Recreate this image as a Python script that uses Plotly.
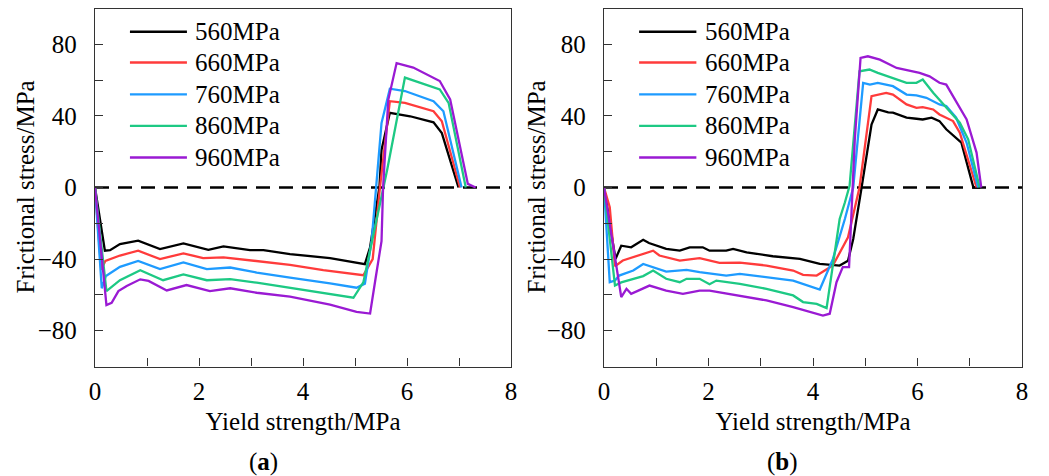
import plotly.graph_objects as go

# ---- series labels and colours ----
labels = ["560MPa", "660MPa", "760MPa", "860MPa", "960MPa"]
colors = ["#000000", "#FF3B3B", "#1E9BFF", "#1DC984", "#9A1AD3"]

# ---- panel (a) ----
a_x_560 = [0, 0.19, 0.29, 0.48, 0.83, 1.25, 1.70, 2.18, 2.47, 2.98, 3.24, 3.75, 4.52, 4.97, 5.19, 5.29, 5.47, 5.51, 5.67, 6.06, 6.51, 6.67, 6.99]
a_y_560 = [0, -35.3, -35, -31.6, -29.7, -34.4, -31.2, -34.8, -32.9, -35, -35, -37.2, -39.4, -41.9, -42.8, -33.4, 0.3, 21, 41.7, 39.8, 36.4, 30.4, 0]

a_x_660 = [0, 0.12, 0.20, 0.48, 0.83, 1.25, 1.70, 2.08, 2.47, 3.11, 3.75, 4.39, 5.16, 5.34, 5.48, 5.67, 5.96, 6.51, 6.67, 7.02]
a_y_660 = [0, -46, -41, -38, -35.3, -40, -36.8, -39.4, -39, -41, -43.2, -46.2, -49, -40, 0, 48.2, 47.3, 42.6, 37, 0]

a_x_760 = [0, 0.13, 0.21, 0.48, 0.83, 1.25, 1.70, 2.15, 2.60, 3.11, 3.75, 4.52, 5.03, 5.19, 5.32, 5.40, 5.51, 5.67, 5.96, 6.51, 6.70, 7.05]
a_y_760 = [0, -56.3, -49.4, -44.3, -41, -45.6, -41.9, -45.6, -44.7, -47.5, -50.4, -53.5, -56, -53.7, -29.7, 0, 36, 55.2, 53.9, 48.2, 42.6, 0]

a_x_860 = [0, 0.22, 0.48, 0.87, 1.31, 1.70, 2.15, 2.60, 3.11, 3.75, 4.39, 4.97, 5.16, 5.62, 5.96, 6.63, 6.80, 7.13]
a_y_860 = [0, -57.9, -51.8, -46.2, -51.8, -48.5, -51.8, -51.2, -53.2, -56, -58.8, -61.6, -53, 10, 61.4, 54.8, 47.3, 0]

a_x_960 = [0, 0.22, 0.32, 0.45, 0.61, 0.87, 1.03, 1.38, 1.76, 2.21, 2.60, 3.11, 3.75, 4.52, 5.03, 5.29, 5.40, 5.51, 5.54, 5.64, 5.80, 6.12, 6.63, 6.83, 7.17, 7.32]
a_y_960 = [0, -65.7, -64.4, -57.9, -55, -51.3, -52.2, -57.5, -54.5, -57.9, -56.3, -58.8, -61, -65.4, -69.5, -70.4, -50, -30, 0, 49, 69.5, 67, 59.5, 49.2, 2, 0]

# ---- panel (b) ----
b_x_560 = [0, 0.22, 0.33, 0.52, 0.75, 0.86, 1.19, 1.45, 1.64, 1.89, 2.02, 2.34, 2.47, 2.73, 3.23, 3.75, 4.13, 4.51, 4.67, 4.77, 4.93, 5.12, 5.24, 5.44, 5.53, 5.79, 5.98, 6.10, 6.27, 6.42, 6.55, 6.84, 7.07, 7.20]
b_y_560 = [0, -39.9, -32.5, -33.4, -29.2, -31, -34.3, -35.3, -33.4, -33.4, -35.3, -35.3, -34.3, -36.2, -38.4, -39.9, -42.7, -43.6, -40.9, -28.8, 0, 35.2, 43.6, 42, 41.8, 39, 38.4, 38, 39, 37.1, 32.5, 25, 0, 0]

b_x_660 = [0, 0.11, 0.21, 0.36, 0.94, 1.06, 1.45, 1.83, 2.21, 2.60, 3.11, 3.62, 3.81, 4.07, 4.38, 4.67, 4.89, 5.12, 5.40, 5.53, 5.79, 5.98, 6.10, 6.30, 6.42, 6.68, 6.81, 7.13]
b_y_660 = [0, -11, -44, -40.8, -35.3, -38, -40.8, -39.5, -42.1, -42, -43.6, -46.4, -48.8, -49.2, -43.6, -27.8, 0, 51, 52.9, 51.9, 46.4, 44.5, 44.9, 43.6, 40.8, 37.1, 30.6, 0]

b_x_760 = [0, 0.11, 0.21, 0.29, 0.56, 0.75, 1.19, 1.58, 1.83, 2.34, 2.60, 3.11, 3.62, 4.13, 4.38, 4.61, 4.77, 4.96, 5.09, 5.24, 5.53, 5.79, 5.98, 6.17, 6.42, 6.55, 6.74, 6.94, 7.16]
b_y_760 = [0, -52.9, -52, -49.2, -46.4, -42.7, -47, -46, -47.3, -49.2, -48.3, -50.1, -52, -57, -40, -17.6, 0, 58.4, 57.5, 58.4, 56.6, 51.9, 51.5, 50.1, 46.4, 45.5, 39, 25, 0]

b_x_860 = [0, 0.21, 0.33, 0.56, 0.75, 0.94, 1.19, 1.45, 1.58, 1.83, 2.02, 2.15, 2.60, 3.11, 3.62, 3.81, 4.07, 4.26, 4.51, 4.61, 4.70, 4.89, 5.08, 5.24, 5.53, 5.79, 5.98, 6.10, 6.30, 6.55, 6.81, 6.97, 7.19]
b_y_860 = [0, -54.8, -53, -51, -49.5, -46.4, -51, -52.9, -51, -51, -54, -52, -53.8, -56.6, -60.3, -64, -65, -67.4, -17.6, -8.4, 0.9, 64.9, 65.9, 64, 61.2, 58.5, 58.5, 60.3, 52.9, 44.5, 36.2, 26.9, 0]

b_x_960 = [0, 0.33, 0.43, 0.52, 0.87, 1.19, 1.51, 1.83, 2.02, 2.60, 3.11, 3.62, 3.94, 4.19, 4.32, 4.45, 4.57, 4.69, 4.80, 4.91, 5.05, 5.28, 5.60, 5.91, 6.04, 6.23, 6.42, 6.55, 6.74, 6.94, 7.13, 7.22]
b_y_960 = [0, -61.2, -56.6, -59.4, -54.8, -57.6, -59.4, -57.6, -57.6, -60.3, -63.1, -66.8, -69.6, -71.5, -70.5, -52.9, -44.5, -44.5, 26.9, 72.4, 73.3, 71.4, 66.8, 64.9, 64, 62.1, 58.5, 57.5, 48.2, 38, 19.5, 0]

panel_a = [(a_x_560, a_y_560), (a_x_660, a_y_660), (a_x_760, a_y_760), (a_x_860, a_y_860), (a_x_960, a_y_960)]
panel_b = [(b_x_560, b_y_560), (b_x_660, b_y_660), (b_x_760, b_y_760), (b_x_860, b_y_860), (b_x_960, b_y_960)]

x_ticks = [0, 2, 4, 6, 8]
y_ticks = [-80, -40, 0, 40, 80]

FONT = "Liberation Serif, Times New Roman, serif"
FS = 25
W, H = 1049, 476

fig = go.Figure()

for xa, ya, series in (("x", "y", panel_a), ("x2", "y2", panel_b)):
    for (xs, ys), name, col in zip(series, labels, colors):
        fig.add_trace(go.Scatter(x=xs, y=ys, mode="lines", name=name,
                                 line=dict(color=col, width=2.3),
                                 xaxis=xa, yaxis=ya, showlegend=False))

# dashed zero reference line in each panel
for xa, ya in (("x", "y"), ("x2", "y2")):
    fig.add_shape(type="line", xref=xa, yref=ya, x0=0, x1=8, y0=0, y1=0,
                  line=dict(color="black", width=2.4, dash="14px,9px"), layer="below")

# hand-built legends with long line samples
legend_rows = [0.935, 0.849, 0.760, 0.672, 0.584]
for xd, yd in (("x domain", "y domain"), ("x2 domain", "y2 domain")):
    for name, col, ry in zip(labels, colors, legend_rows):
        fig.add_shape(type="line", xref=xd, yref=yd, x0=0.084, x1=0.221, y0=ry, y1=ry,
                      line=dict(color=col, width=2.4))
        fig.add_annotation(xref=xd, yref=yd, x=0.236, y=ry, text=name, showarrow=False,
                           xanchor="left", yanchor="middle",
                           font=dict(family=FONT, size=FS, color="black"))

ydom = [1 - 366.5 / H, 1 - 8.5 / H]
axis_common = dict(showline=True, mirror=True, linecolor="#333", linewidth=1.3,
                   ticks="inside", ticklen=8, tickwidth=1.3, tickcolor="#333",
                   showgrid=False, zeroline=False,
                   tickfont=dict(family=FONT, size=FS, color="black"))


def x_axis(dom, anchor):
    return dict(domain=dom, range=[0, 8], tickvals=x_ticks,
                minor=dict(dtick=1, ticks="inside", ticklen=8, tickcolor="#333", tickwidth=1.3),
                ticklabelstandoff=2, anchor=anchor,
                title=dict(text="Yield strength/MPa", standoff=8,
                           font=dict(family=FONT, size=FS, color="black")),
                **axis_common)


def y_axis(anchor):
    return dict(domain=ydom, range=[-100, 100], tickvals=y_ticks,
                minor=dict(dtick=20, ticks="inside", ticklen=8, tickcolor="#333", tickwidth=1.3),
                ticklabelstandoff=12, anchor=anchor,
                **axis_common)


fig.update_layout(
    width=W, height=H, margin=dict(l=0, r=0, t=0, b=0),
    paper_bgcolor="white", plot_bgcolor="white", template="none",
    showlegend=False,
    xaxis=x_axis([95 / W, 511 / W], "y"),
    yaxis=y_axis("x"),
    xaxis2=x_axis([604 / W, 1022 / W], "y2"),
    yaxis2=y_axis("x2"),
)

# vertical axis titles
for cx in (25, 536):
    fig.add_annotation(xref="paper", yref="paper", x=cx / W, y=1 - 187.5 / H,
                       text="Frictional stress/MPa", textangle=-90, showarrow=False,
                       xanchor="center", yanchor="middle",
                       font=dict(family=FONT, size=FS, color="black"))

# panel captions
for cx, tag in ((263, "a"), (782, "b")):
    fig.add_annotation(xref="paper", yref="paper", x=cx / W, y=1 - 462 / H,
                       text=f"(<b>{tag}</b>)", showarrow=False,
                       xanchor="center", yanchor="middle",
                       font=dict(family=FONT, size=FS, color="black"))

fig.write_html("out.html")
